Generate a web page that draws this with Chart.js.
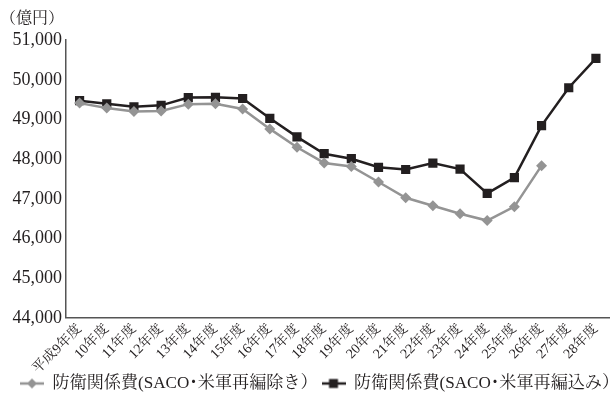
<!DOCTYPE html>
<html lang="ja">
<head>
<meta charset="utf-8">
<script src="https://cdn.jsdelivr.net/npm/chart.js@4/dist/chart.umd.min.js"></script>
<style>
  html, body { margin: 0; padding: 0; background: #fff; }
  #wrap { width: 616px; height: 397px; }
</style>
</head>
<body>
<div id="wrap"><canvas id="c" width="616" height="397"></canvas></div>
<script>
// 年度
const years = ['平成9年度','10年度','11年度','12年度','13年度','14年度','15年度','16年度','17年度','18年度',
               '19年度','20年度','21年度','22年度','23年度','24年度','25年度','26年度','27年度','28年度'];
// 防衛関係費（SACO・米軍再編除き）億円
const excluding = [49414, 49290, 49201, 49218, 49388, 49395, 49265, 48764, 48301, 47906,
                   47818, 47426, 47028, 46826, 46625, 46453, 46804, 47838, null, null];
// 防衛関係費（SACO・米軍再編込み）億円
const including = [49475, 49397, 49322, 49358, 49553, 49560, 49530, 49030, 48564, 48139,
                   48013, 47796, 47741, 47903, 47752, 47138, 47538, 48848, 49801, 50541];
const yTicks = [44000, 45000, 46000, 47000, 48000, 49000, 50000, 51000];

const seriesNames = ['防衛関係費(SACO･米軍再編除き）', '防衛関係費(SACO･米軍再編込み）'];
const GREY = '#949494';
const BLACK = '#231f20';
const TEXT = '#231f20';
const FONT = '"Liberation Serif", "Noto Serif CJK JP", "Noto Sans CJK JP", serif';

// legend swatch: short line with the series marker in the middle
function swatch(color, shape) {
  const cv = document.createElement('canvas');
  cv.width = 24; cv.height = 12;
  const g = cv.getContext('2d');
  g.strokeStyle = color; g.lineWidth = 2.5;
  g.beginPath(); g.moveTo(0, 6); g.lineTo(24, 6); g.stroke();
  g.fillStyle = color;
  g.beginPath();
  if (shape === 'diamond') {
    g.moveTo(12, 1); g.lineTo(17, 6); g.lineTo(12, 11); g.lineTo(7, 6);
  } else {
    g.rect(7.5, 1.5, 9, 9);
  }
  g.closePath(); g.fill();
  return cv;
}
const swatches = [swatch(GREY, 'diamond'), swatch(BLACK, 'square')];

// nudge the legend row a little to the right of centre
const legendShift = {
  id: 'legendShift',
  afterLayout(chart) {
    if (chart.legend) { chart.legend.left += 12; chart.legend.right += 12; }
  }
};

new Chart(document.getElementById('c'), {
  type: 'line',
  data: {
    labels: years,
    datasets: [
      {
        label: seriesNames[0],
        data: excluding,
        borderColor: GREY, backgroundColor: GREY,
        borderWidth: 2.5,
        pointStyle: 'rectRot', pointRadius: 5.5, pointHoverRadius: 5.5,
        pointBorderWidth: 0,
        tension: 0, spanGaps: false
      },
      {
        label: seriesNames[1],
        data: including,
        borderColor: BLACK, backgroundColor: BLACK,
        borderWidth: 2.5,
        pointStyle: 'rect', pointRadius: 6.5, pointHoverRadius: 6.5,
        pointBorderWidth: 0,
        tension: 0
      }
    ]
  },
  plugins: [legendShift],
  options: {
    responsive: false,
    animation: false,
    devicePixelRatio: 1,
    layout: { padding: { left: 0, right: 1, top: 0, bottom: -5 } },
    plugins: {
      tooltip: { enabled: false },
      title: {
        display: true,
        text: '（億円）',
        align: 'start',
        color: TEXT,
        font: { family: FONT, size: 16, weight: 'normal' },
        padding: { top: 9, bottom: 12 }
      },
      legend: {
        position: 'bottom',
        labels: {
          color: TEXT,
          font: { family: FONT, size: 17.1 },
          usePointStyle: true,
          pointStyleWidth: 24,
          boxHeight: 12,
          padding: 4,
          generateLabels(chart) {
            const items = Chart.defaults.plugins.legend.labels.generateLabels(chart);
            items.forEach((it, i) => { it.pointStyle = swatches[i]; });
            return items;
          }
        }
      }
    },
    scales: {
      x: {
        offset: true,
        grid: { display: false, drawTicks: false },
        border: { display: true, color: '#555555', width: 1.5 },
        ticks: {
          color: TEXT,
          font: { family: FONT, size: 14 },
          minRotation: 45, maxRotation: 45,
          autoSkip: false,
          padding: 3
        },
        afterFit(scale) { scale.height = 53; }
      },
      y: {
        min: 44000, max: 51000,
        grid: { display: false, drawTicks: false },
        border: { display: true, color: '#555555', width: 1.5 },
        afterBuildTicks(scale) { scale.ticks = yTicks.map(v => ({ value: v })); },
        ticks: {
          color: TEXT,
          font: { family: FONT, size: 18 },
          padding: 4,
          callback: v => v.toLocaleString('en-US')
        },
        afterFit(scale) { scale.width = 66; }
      }
    }
  }
});
</script>
</body>
</html>
